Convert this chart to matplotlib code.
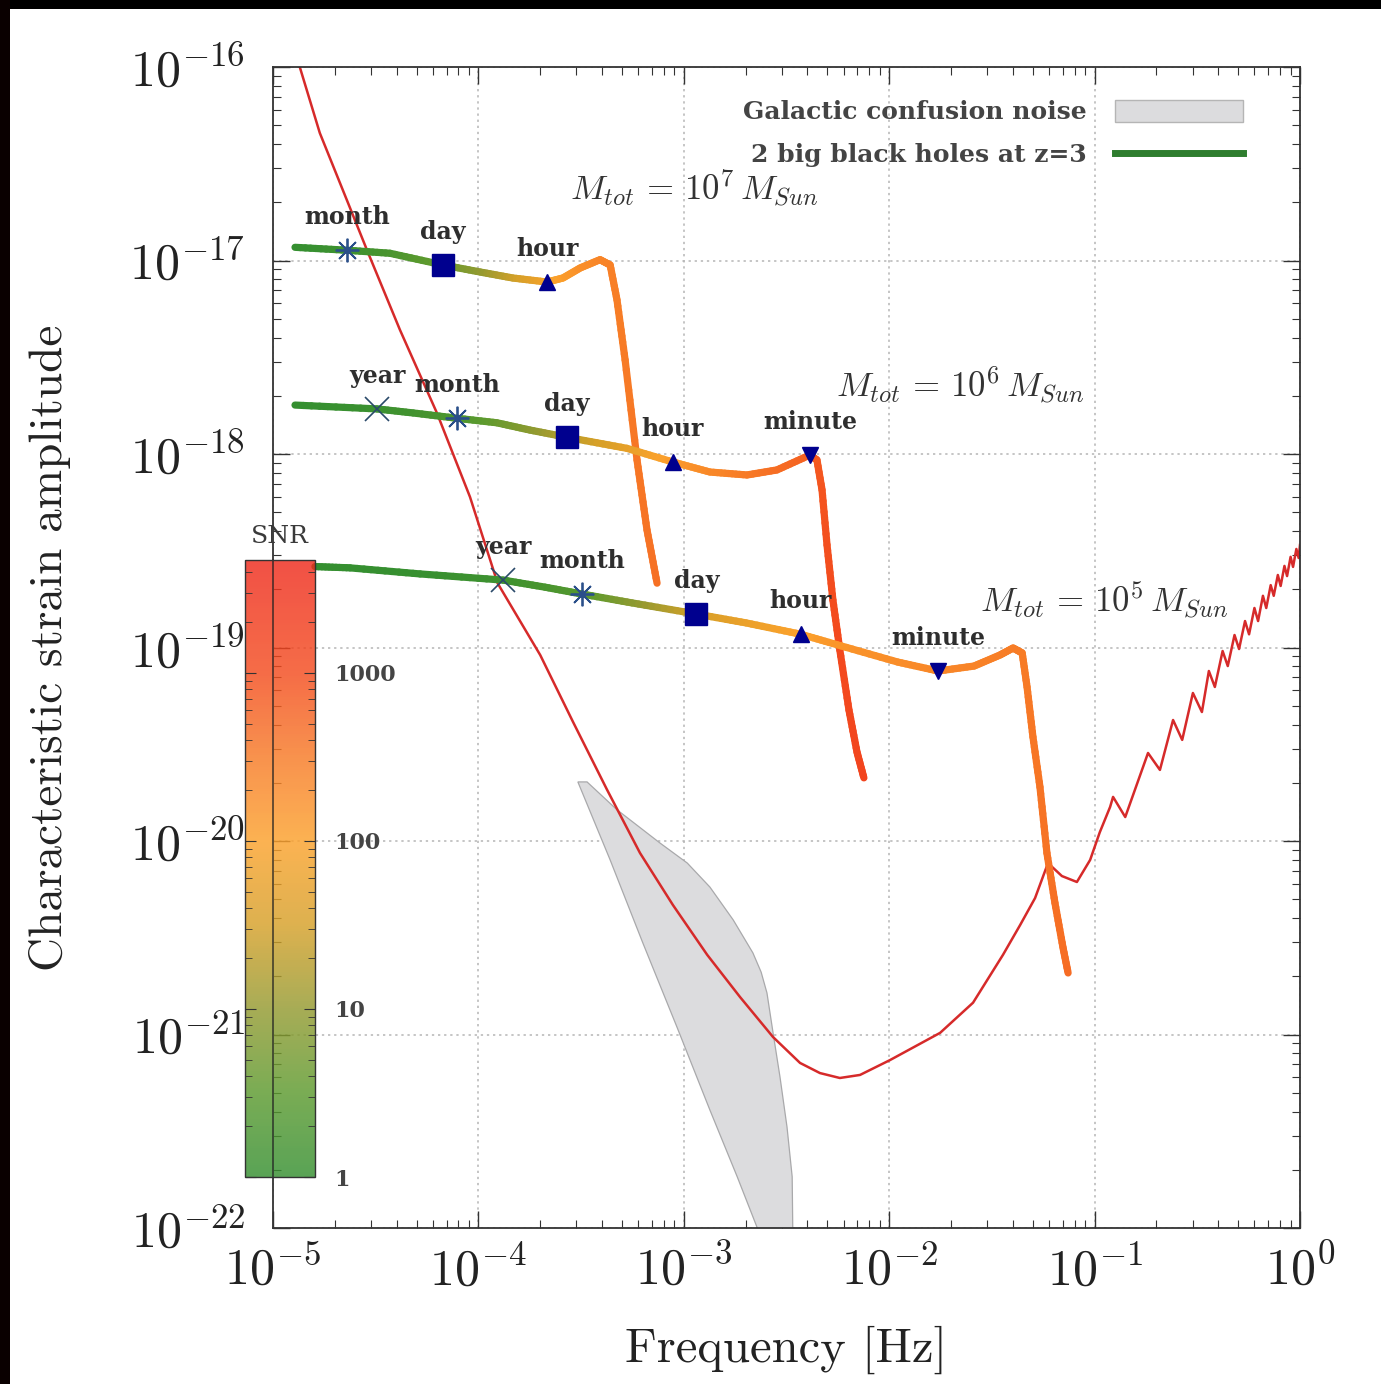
import numpy as np
import matplotlib
matplotlib.use('Agg')
import matplotlib.pyplot as plt
from matplotlib.collections import LineCollection
from matplotlib.colors import LinearSegmentedColormap, LogNorm
from matplotlib.patches import Rectangle, Patch
from matplotlib.lines import Line2D
from matplotlib.cm import ScalarMappable
from matplotlib.transforms import blended_transform_factory

plt.rcParams['mathtext.fontset'] = 'cm'
plt.rcParams['font.family'] = ['DejaVu Serif']

# ---------------- data ----------------
# LISA-like sensitivity curve (Hz, strain)
sens_f = [1.28e-5, 1.35e-5, 1.69e-5, 2.29e-5, 2.87e-5, 4.15e-5, 6.28e-5, 9.10e-5, 1.24e-4, 2.00e-4,
          2.89e-4, 4.23e-4, 6.12e-4, 8.85e-4, 1.30e-3, 1.88e-3, 2.72e-3, 3.68e-3, 4.60e-3, 5.75e-3,
          7.21e-3, 1.01e-2, 1.77e-2, 2.56e-2, 3.58e-2, 4.34e-2, 5.13e-2,
          5.93e-2, 6.93e-2, 8.20e-2, 9.51e-2, 0.106, 0.119, 0.123, 0.141, 0.182, 0.208,
          0.241, 0.267, 0.301, 0.333, 0.36, 0.385, 0.42, 0.445, 0.48, 0.505,
          0.54, 0.565, 0.60, 0.625, 0.66, 0.685, 0.72, 0.745, 0.78, 0.805,
          0.84, 0.865, 0.90, 0.925, 0.96, 0.985, 1.0]
sens_h = [1.38e-16, 1.0e-16, 4.56e-17, 2.05e-17, 1.13e-17, 4.38e-18, 1.63e-18, 6.00e-19, 2.15e-19, 9.14e-20,
          4.12e-20, 1.84e-20, 8.67e-21, 4.67e-21, 2.58e-21, 1.56e-21, 9.70e-22, 7.13e-22, 6.32e-22, 5.96e-22,
          6.18e-22, 7.38e-22, 1.02e-21, 1.46e-21, 2.58e-21, 3.68e-21, 5.07e-21,
          7.69e-21, 6.59e-21, 6.14e-21, 7.98e-21, 1.11e-20, 1.50e-20, 1.69e-20, 1.33e-20, 2.85e-20, 2.33e-20,
          4.22e-20, 3.33e-20, 5.82e-20, 4.64e-20, 7.56e-20, 6.25e-20, 9.59e-20, 8.02e-20, 1.16e-19, 9.82e-20,
          1.37e-19, 1.17e-19, 1.60e-19, 1.37e-19, 1.85e-19, 1.60e-19, 2.10e-19, 1.85e-19, 2.37e-19, 2.08e-19,
          2.64e-19, 2.34e-19, 2.94e-19, 2.61e-19, 3.23e-19, 2.90e-19, 3.39e-19]

# Galactic confusion noise band
gal_upper_f = [3.05e-4, 3.38e-4, 4.73e-4, 7.65e-4, 1.04e-3, 1.34e-3, 1.74e-3, 2.17e-3, 2.38e-3, 2.54e-3,
               2.72e-3, 2.94e-3, 3.18e-3, 3.37e-3, 3.40e-3]
gal_upper_h = [2.02e-20, 2.02e-20, 1.45e-20, 9.77e-21, 7.69e-21, 5.78e-21, 3.91e-21, 2.64e-21, 2.10e-21, 1.64e-21,
               1.02e-21, 6.03e-22, 3.33e-22, 1.84e-22, 8.0e-23]
gal_lower_f = [3.05e-4, 4.38e-4, 6.32e-4, 9.27e-4, 1.34e-3, 1.82e-3, 2.40e-3]
gal_lower_h = [2.02e-20, 7.98e-21, 2.97e-21, 1.09e-21, 4.07e-22, 1.84e-22, 8.7e-23]

# Black hole binary tracks (frequency, strain, accumulated SNR)
t7_f = [1.28e-5, 2.29e-5, 3.71e-5, 6.73e-5, 1.02e-4, 1.47e-4, 2.16e-4, 2.58e-4, 3.13e-4, 3.91e-4,
        4.38e-4, 4.73e-4, 5.18e-4, 5.92e-4, 6.62e-4, 7.41e-4]
t7_h = [1.17e-17, 1.13e-17, 1.09e-17, 9.48e-18, 8.72e-18, 8.12e-18, 7.74e-18, 8.12e-18, 9.15e-18, 1.01e-17,
        9.48e-18, 6.25e-18, 3.06e-18, 9.31e-19, 4.05e-19, 2.15e-19]
t7_snr = [1.0, 1.3, 1.8, 4, 9, 25, 75, 110, 160, 220, 250, 280, 310, 340, 370, 400]

t6_f = [1.28e-5, 3.21e-5, 4.81e-5, 7.87e-5, 1.23e-4, 1.78e-4, 2.70e-4, 5.28e-4, 8.85e-4, 1.34e-3,
        2.03e-3, 2.84e-3, 4.11e-3, 4.45e-3, 4.71e-3, 4.98e-3, 5.32e-3, 5.75e-3, 6.37e-3, 6.97e-3, 7.53e-3]
t6_h = [1.79e-18, 1.71e-18, 1.63e-18, 1.53e-18, 1.45e-18, 1.33e-18, 1.22e-18, 1.07e-18, 9.09e-19, 8.07e-19,
        7.79e-19, 8.27e-19, 9.88e-19, 9.31e-19, 6.52e-19, 3.39e-19, 1.76e-19, 9.71e-20, 4.75e-20, 2.88e-20, 2.12e-20]
t6_snr = [1, 1.2, 1.5, 2, 4, 8, 18, 50, 120, 200, 300, 420, 600, 700, 800, 900, 1000, 1100, 1200, 1300, 1400]

t5_f = [1.60e-5, 2.37e-5, 5.20e-5, 1.32e-4, 2.11e-4, 3.19e-4, 5.60e-4, 1.15e-3, 2.01e-3, 3.72e-3,
        5.82e-3, 1.10e-2, 1.73e-2, 2.59e-2, 3.46e-2, 4.01e-2, 4.44e-2, 4.69e-2, 5.01e-2, 5.42e-2,
        5.86e-2, 6.41e-2, 7.01e-2, 7.43e-2]
t5_h = [2.62e-19, 2.58e-19, 2.40e-19, 2.23e-19, 2.05e-19, 1.89e-19, 1.70e-19, 1.49e-19, 1.34e-19, 1.17e-19,
        1.02e-19, 8.41e-20, 7.56e-20, 8.02e-20, 9.14e-20, 9.94e-20, 9.37e-20, 6.25e-20, 3.45e-20, 1.90e-20,
        8.67e-21, 4.79e-21, 2.83e-21, 2.08e-21]
t5_snr = [1, 1, 1.1, 1.3, 1.8, 2.5, 8, 30, 60, 100, 140, 180, 210, 240, 270, 290, 300, 320, 340, 360,
          380, 400, 420, 440]

# time-to-merger markers (frequencies on each track)
t7_marks = {'month': 2.29e-5, 'day': 6.73e-5, 'hour': 2.16e-4}
t6_marks = {'year': 3.21e-5, 'month': 7.87e-5, 'day': 2.70e-4, 'hour': 8.85e-4, 'minute': 4.11e-3}
t5_marks = {'year': 1.32e-4, 'month': 3.19e-4, 'day': 1.15e-3, 'hour': 3.72e-3, 'minute': 1.73e-2}

x_ticks = [1e-5, 1e-4, 1e-3, 1e-2, 1e-1, 1e0]
x_ticklabels = [r'$10^{-5}$', r'$10^{-4}$', r'$10^{-3}$', r'$10^{-2}$', r'$10^{-1}$', r'$10^{0}$']
y_ticks = [1e-22, 1e-21, 1e-20, 1e-19, 1e-18, 1e-17, 1e-16]
y_ticklabels = [r'$10^{-22}$', r'$10^{-21}$', r'$10^{-20}$', r'$10^{-19}$', r'$10^{-18}$', r'$10^{-17}$', r'$10^{-16}$']
snr_ticks = [1, 10, 100, 1000]
snr_ticklabels = ['1', '10', '100', '1000']

# ---------------- figure ----------------
W, H = 1381, 1384
fig = plt.figure(figsize=(W / 100, H / 100), dpi=100)
fig.patch.set_facecolor('white')

ax = fig.add_axes([273 / W, 1 - 1228 / H, (1300 - 273) / W, (1228 - 67) / H])
ax.set_xscale('log')
ax.set_yscale('log')
ax.set_xlim(1e-5, 1e0)
ax.set_ylim(1e-22, 1e-16)

cmap = LinearSegmentedColormap.from_list('snr', [
    (0.0, '#358f30'), (0.136, '#5c9a2e'), (0.272, '#949a30'), (0.408, '#d6a028'),
    (0.545, '#fba12c'), (0.681, '#f77a26'), (0.817, '#f34c1e'), (1.0, '#ef2a1c')])
norm = LogNorm(vmin=1, vmax=4700)

# grid
ax.grid(True, which='major', color='#b5b5b5', linestyle=(0, (1.5, 2.5)), linewidth=1.1)
ax.set_axisbelow(True)

# galactic confusion noise
poly_f = list(gal_upper_f) + list(gal_lower_f[::-1])
poly_h = list(gal_upper_h) + list(gal_lower_h[::-1])
ax.fill(poly_f, poly_h, facecolor='#dcdcde', edgecolor='#a9a9ab', linewidth=0.9, zorder=1)

# sensitivity curve
ax.plot(sens_f, sens_h, color='#d62a2a', linewidth=1.8, zorder=2, solid_joinstyle='round')


def draw_track(f, h, snr, sub=10):
    lf, lh, ls = np.log10(f), np.log10(h), np.log10(snr)
    segs, vals = [], []
    for i in range(len(lf) - 1):
        for k in range(sub):
            a, b = k / sub, (k + 1) / sub
            p0 = (10 ** (lf[i] + a * (lf[i + 1] - lf[i])), 10 ** (lh[i] + a * (lh[i + 1] - lh[i])))
            p1 = (10 ** (lf[i] + b * (lf[i + 1] - lf[i])), 10 ** (lh[i] + b * (lh[i + 1] - lh[i])))
            segs.append([p0, p1])
            vals.append(10 ** (ls[i] + (a + b) / 2 * (ls[i + 1] - ls[i])))
    lc = LineCollection(segs, cmap=cmap, norm=norm, linewidths=5.2, capstyle='round',
                        joinstyle='round', zorder=3)
    lc.set_array(np.array(vals))
    ax.add_collection(lc)


def on_track(f, h, fm):
    return 10 ** np.interp(np.log10(fm), np.log10(f), np.log10(h))


marker_style = {
    'year': dict(marker='x', markersize=17, markeredgewidth=1.2, color='#2a4a6a'),
    'month': dict(marker=(8, 2, 0), markersize=17, markeredgewidth=1.3, color='#2a4f8a'),
    'day': dict(marker='s', markersize=16, color='#00008e'),
    'hour': dict(marker='^', markersize=12, color='#00008e'),
    'minute': dict(marker='v', markersize=12, color='#00008e'),
}

for f, h, snr, marks in [(t7_f, t7_h, t7_snr, t7_marks), (t6_f, t6_h, t6_snr, t6_marks),
                         (t5_f, t5_h, t5_snr, t5_marks)]:
    draw_track(f, h, snr)
    for name, fm in marks.items():
        hm = on_track(f, h, fm)
        ax.plot([fm], [hm], linestyle='none', zorder=4, **marker_style[name])
        ax.annotate(name, (fm, hm), xytext=(0, 24), textcoords='offset points',
                    ha='center', va='center', fontsize=17, fontweight='bold',
                    color='#2e2e2e', zorder=5)

# mass labels
mass_kw = dict(fontsize=25, ha='center', va='center', color='#333333')
ax.text(1.13e-3, 2.37e-17, r'$M_{tot}\,=\,10^{7}\,M_{Sun}$', **mass_kw)
ax.text(2.21e-2, 2.28e-18, r'$M_{tot}\,=\,10^{6}\,M_{Sun}$', **mass_kw)
ax.text(0.112, 1.76e-19, r'$M_{tot}\,=\,10^{5}\,M_{Sun}$', **mass_kw)

# ticks
ax.set_xticks(x_ticks)
ax.set_xticklabels(x_ticklabels, fontsize=36)
ax.set_yticks(y_ticks)
ax.set_yticklabels(y_ticklabels, fontsize=36)
ax.tick_params(which='both', direction='in', top=True, right=True, colors='#333333')
ax.tick_params(which='major', length=12, width=1.0)
ax.tick_params(which='minor', length=6, width=0.8)
ax.tick_params(axis='x', which='major', pad=13, labelcolor='#222222')
ax.tick_params(axis='y', which='major', pad=20, labelcolor='#222222')
for s in ax.spines.values():
    s.set_linewidth(1.3)
    s.set_color('#333333')

ax.set_xlabel('Frequency [Hz]', fontsize=35, family='cmr10', labelpad=22, color='#222222')
ax.set_ylabel('Characteristic strain amplitude', fontsize=34, family='cmr10', labelpad=42, color='#222222')

# legend
handles = [Patch(facecolor='#dcdcde', edgecolor='#b5b5b5'),
           Line2D([], [], color='#2e7d2e', linewidth=5)]
leg = ax.legend(handles, ['Galactic confusion noise', '2 big black holes at z=3'],
                loc='upper right', bbox_to_anchor=(0.966, 0.991), frameon=False, markerfirst=False,
                prop=dict(size=18, weight='bold'), handlelength=5.1, handleheight=0.95,
                handletextpad=1.15, labelspacing=0.75, labelcolor='#444444')

# colorbar
cax = fig.add_axes([245 / W, 1 - 1177 / H, 70 / W, (1177 - 560) / H])
cb = fig.colorbar(ScalarMappable(norm=norm, cmap=cmap), cax=cax, alpha=0.82)
cax.patch.set_alpha(0.0)
cb.set_ticks(snr_ticks)
cb.set_ticklabels(snr_ticklabels)
cax.tick_params(which='both', direction='in', left=True, right=True, labelleft=False,
                labelright=True, colors='#333333', labelsize=16, pad=14)
for t in cax.get_yticklabels():
    t.set_fontweight('bold')
    t.set_color('#444444')
cax.tick_params(which='major', length=8)
cax.tick_params(which='minor', length=5)
cb.outline.set_edgecolor('#333333')
cb.outline.set_linewidth(1.0)
cax.set_title('SNR', fontsize=18, color='#3a3a3a', pad=12)
# the main axis spine stays visible through the translucent colour bar
cax.plot([1e-5, 1e-5], [0, 1], transform=blended_transform_factory(ax.transData, cax.transAxes),
         color='#333333', linewidth=1.2, alpha=0.8, clip_on=False)

# dark frame of the screenshot
fig.patches.append(Rectangle((0, 1 - 9 / H), 1, 9 / H, transform=fig.transFigure,
                             facecolor='black', edgecolor='none', zorder=10))
fig.patches.append(Rectangle((0, 0), 10 / W, 1, transform=fig.transFigure,
                             facecolor='#0a0000', edgecolor='none', zorder=10))

fig.savefig('out.png', dpi=100)
